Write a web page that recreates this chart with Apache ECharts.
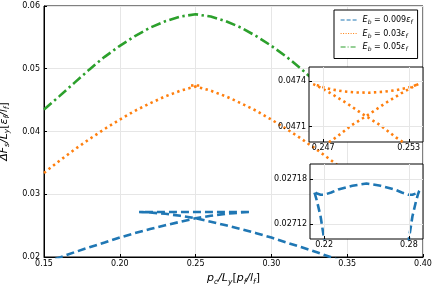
<!DOCTYPE html>
<html><head><meta charset="utf-8">
<script src="https://cdn.jsdelivr.net/npm/echarts@6/dist/echarts.min.js"></script>
<style>html,body{margin:0;padding:0;background:#fff}#c{width:436px;height:291px}</style>
</head><body><div id="c"></div>
<script>
// ---- data ----
const seriesNames = ['Eb=0.009', 'Eb=0.03', 'Eb=0.05'];
const legendLabels = ['0.009', '0.03', '0.05'];

const blueX = [0.150,0.160,0.170,0.180,0.190,0.200,0.210,0.220,0.230,0.240,0.250,0.260,0.270,0.275,0.280,0.2825,0.285,0.2865,0.2873,
  0.2855,0.2825,0.280,0.275,0.270,0.260,0.250,0.240,0.230,0.225,0.220,0.2175,0.2145,0.2127,
  0.2135,0.215,0.2175,0.220,0.225,0.230,0.240,0.250,0.260,0.270,0.280,0.290,0.300,0.310,0.320,0.330,0.340,0.350];
const blueY = [0.0190,0.0199,0.02075,0.02155,0.0223,0.0231,0.0238,0.02445,0.02505,0.02562,0.02617,0.02656,0.02688,0.02698,0.02710,0.02713,0.02715,0.02716,0.027164,
  0.027161,0.027159,0.027159,0.027162,0.027166,0.027171,0.027174,0.027171,0.027166,0.027162,0.027159,0.027159,0.027161,0.027164,
  0.02716,0.02715,0.02713,0.02710,0.02698,0.02688,0.02656,0.02617,0.02562,0.02505,0.02445,0.0238,0.0231,0.0223,0.02155,0.02075,0.0199,0.0190];

const orangeX = [0.150,0.160,0.170,0.180,0.190,0.200,0.210,0.220,0.230,0.240,0.245,0.2479,0.2490,0.2502,0.2513,0.2525,0.2533,0.2537,
  0.2533,0.2528,0.2521,0.2512,0.2502,0.2492,0.2484,0.2476,0.2470,0.2466,0.2463,
  0.2467,0.2475,0.2487,0.2498,0.2510,0.2521,0.255,0.260,0.270,0.280,0.290,0.300,0.310,0.320,0.330,0.340,0.350,0.360];
const orangeY = [0.0334,0.0353,0.0371,0.0388,0.0404,0.0419,0.0433,0.0445,0.0456,0.04650,0.04685,0.04703,0.04711,0.04718,0.04725,0.04732,0.04736,0.04738,
  0.047364,0.047352,0.047339,0.047328,0.047322,0.047324,0.047331,0.047343,0.047358,0.047370,0.047378,
  0.04736,0.04732,0.04725,0.04718,0.04711,0.04703,0.04685,0.04650,0.0456,0.0445,0.0433,0.0419,0.0404,0.0388,0.0371,0.0353,0.0334,0.0314];

const greenX = [0.150,0.160,0.170,0.180,0.190,0.200,0.210,0.220,0.230,0.240,0.250,0.260,0.270,0.280,0.290,0.300,0.310,0.320,0.330,0.340,0.350,0.360];
const greenY = [0.0435,0.0456,0.04775,0.0499,0.0519,0.05365,0.0552,0.05655,0.05758,0.05832,0.05868,0.05832,0.05758,0.05655,0.0552,0.05365,0.0519,0.0499,0.04775,0.0456,0.0435,0.0414];

const mainXTicks = [0.15, 0.40, 0.05];
const mainYTicks = [0.02, 0.06, 0.01];
const inset1XRange = [0.246, 0.254], inset1XTicks = [0.247, 0.253];
const inset1YRange = [0.04700, 0.04749], inset1YTicks = [0.0471, 0.0474];
const inset2XRange = [0.21, 0.29], inset2XTicks = [0.22, 0.28];
const inset2YRange = [0.0271, 0.0272], inset2YTicks = [0.02712, 0.02718];

const pair = (xs, ys) => xs.map((x, i) => [x, ys[i]]);
const BLUE = '#1f77b4', ORANGE = '#ff7f0e', GREEN = '#2ca02c';
const FONT = 'DejaVu Sans';
const GRIDC = '#e6e6e6';

const nameRich = {
  i: {fontFamily: FONT, fontSize: 11, fontStyle: 'italic', color: '#000'},
  n: {fontFamily: FONT, fontSize: 11, color: '#000'},
  s: {fontFamily: FONT, fontSize: 7.5, fontStyle: 'italic', color: '#000', padding: [7, 0, 0, 0]}
};
const legRich = {
  i: {fontFamily: FONT, fontSize: 8, fontStyle: 'italic', color: '#000'},
  n: {fontFamily: FONT, fontSize: 8, color: '#000'},
  s: {fontFamily: FONT, fontSize: 6, fontStyle: 'italic', color: '#000', padding: [5, 0, 0, 0]}
};

function insetX(idx, range, ticks, dec) {
  return {
    type: 'value', gridIndex: idx, min: range[0], max: range[1], z: 5,
    axisLine: {show: false},
    axisTick: {show: true, inside: true, length: 3, customValues: ticks, lineStyle: {color: '#000'}},
    axisLabel: {customValues: ticks, fontFamily: FONT, fontSize: 8, color: '#000', margin: 2,
      formatter: v => v.toFixed(dec)},
    splitLine: {show: true, lineStyle: {color: GRIDC, width: 1}}
  };
}
function insetY(idx, range, ticks, dec) {
  return {
    type: 'value', gridIndex: idx, min: range[0], max: range[1], z: 5,
    axisLine: {show: false},
    axisTick: {show: true, inside: true, length: 3, customValues: ticks, lineStyle: {color: '#000'}},
    axisLabel: {customValues: ticks, fontFamily: FONT, fontSize: 8, color: '#000', margin: 3,
      formatter: v => v.toFixed(dec)},
    splitLine: {show: true, lineStyle: {color: GRIDC, width: 1}}
  };
}

const option = {
  animation: false,
  backgroundColor: '#fff',
  grid: [
    {left: 44, right: 13, top: 6, bottom: 34, show: true, borderColor: '#000', borderWidth: 1, z: 0, outerBoundsMode: 'none', containLabel: false},
    {left: 309, right: 13, top: 67, bottom: 149, show: true, backgroundColor: '#fff', borderColor: '#000', borderWidth: 1, z: 3, outerBoundsMode: 'none', containLabel: false},
    {left: 310, right: 13, top: 164, bottom: 52, show: true, backgroundColor: '#fff', borderColor: '#000', borderWidth: 1, z: 3, outerBoundsMode: 'none', containLabel: false}
  ],
  xAxis: [
    {type: 'value', gridIndex: 0, min: mainXTicks[0], max: mainXTicks[1], interval: mainXTicks[2],
      axisLine: {show: true, lineStyle: {color: '#000', width: 1}},
      axisTick: {show: true, inside: true, length: 3, lineStyle: {color: '#000'}},
      axisLabel: {fontFamily: FONT, fontSize: 8, color: '#000', margin: 3, formatter: v => v.toFixed(2)},
      splitLine: {show: true, lineStyle: {color: GRIDC, width: 1}},
      name: '{i|p}{s|c}{i|/L}{s|y}{n|[}{i|p}{s|f}{i|/l}{s|f}{n|]}',
      nameLocation: 'middle', nameGap: 13,
      nameTextStyle: {rich: nameRich}},
    insetX(1, inset1XRange, inset1XTicks, 3),
    insetX(2, inset2XRange, inset2XTicks, 2)
  ],
  yAxis: [
    {type: 'value', gridIndex: 0, min: mainYTicks[0], max: mainYTicks[1], interval: mainYTicks[2],
      axisLine: {show: true, lineStyle: {color: '#000', width: 1}},
      axisTick: {show: true, inside: true, length: 3, lineStyle: {color: '#000'}},
      axisLabel: {fontFamily: FONT, fontSize: 8, color: '#000', margin: 4, formatter: v => v.toFixed(2)},
      splitLine: {show: true, lineStyle: {color: GRIDC, width: 1}},
      name: '{i|ΔF}{s|s}{i|/L}{s|y}{n|[}{i|ε}{s|f}{i|/l}{s|f}{n|]}',
      nameLocation: 'middle', nameGap: 24, nameRotate: 90,
      nameTextStyle: {rich: nameRich}},
    insetY(1, inset1YRange, inset1YTicks, 4),
    insetY(2, inset2YRange, inset2YTicks, 5)
  ],
  legend: {
    left: 334, top: 10, orient: 'vertical', z: 8,
    padding: [6, 5, 6, 6], itemGap: 4, itemWidth: 17, itemHeight: 8,
    backgroundColor: '#fff', borderColor: '#000', borderWidth: 1, borderRadius: 0,
    itemStyle: {color: 'rgba(0,0,0,0)', borderWidth: 0, borderColor: 'rgba(0,0,0,0)', opacity: 0},
    textStyle: {rich: legRich, fontSize: 8},
    formatter: name => {
      const k = seriesNames.indexOf(name);
      return '{i|E}{s|b}{n| = ' + legendLabels[k] + '}{i|ε}{s|f}';
    },
    data: [
      {name: seriesNames[0], lineStyle: {width: 1.2, type: [4, 2], opacity: 1}},
      {name: seriesNames[1], lineStyle: {width: 1.2, type: [1, 1.5], opacity: 1}},
      {name: seriesNames[2], lineStyle: {width: 1.2, type: [5, 2, 1, 2], opacity: 1}}
    ]
  },
  series: [
    {name: seriesNames[0], type: 'line', xAxisIndex: 0, yAxisIndex: 0, data: pair(blueX, blueY),
      symbol: 'none', z: 2, lineStyle: {color: BLUE, width: 2.6, type: [8, 4], cap: 'butt'}, itemStyle: {color: BLUE}},
    {name: seriesNames[1], type: 'line', xAxisIndex: 0, yAxisIndex: 0, data: pair(orangeX, orangeY),
      symbol: 'none', z: 2, lineStyle: {color: ORANGE, width: 2.6, type: [2.4, 3.4], cap: 'butt'}, itemStyle: {color: ORANGE}},
    {name: seriesNames[2], type: 'line', xAxisIndex: 0, yAxisIndex: 0, data: pair(greenX, greenY),
      symbol: 'none', z: 2, lineStyle: {color: GREEN, width: 2.6, type: [10, 3.5, 2.4, 3.5], cap: 'butt'}, itemStyle: {color: GREEN}},
    {name: 'inset-orange', type: 'line', xAxisIndex: 1, yAxisIndex: 1, data: pair(orangeX, orangeY),
      symbol: 'none', z: 4, lineStyle: {color: ORANGE, width: 2.6, type: [2.4, 3.4], cap: 'butt'}},
    {name: 'inset-blue', type: 'line', xAxisIndex: 2, yAxisIndex: 2, data: pair(blueX, blueY),
      symbol: 'none', z: 4, lineStyle: {color: BLUE, width: 2.6, type: [8, 4], cap: 'butt'}}
  ]
};
const chart = echarts.init(document.getElementById('c'), null, {renderer: 'canvas'});
chart.setOption(option);
</script></body></html>
